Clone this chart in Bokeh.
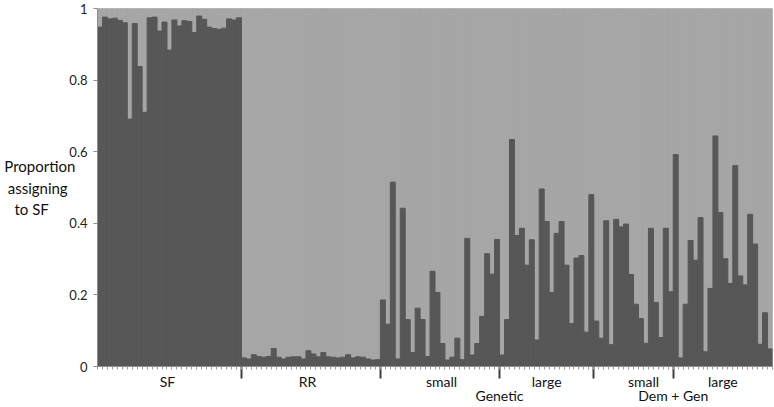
from bokeh.plotting import figure
from bokeh.models import Range1d, FixedTicker, LinearAxis, ColumnDataSource
from bokeh.embed import file_html
from bokeh.resources import INLINE

# ---- data (proportion assigning to SF, one value per individual) ----
sf = [0.948, 0.976, 0.971, 0.973, 0.967, 0.960, 0.691, 0.958, 0.838, 0.710,
      0.974, 0.976, 0.937, 0.962, 0.884, 0.968, 0.951, 0.966, 0.964, 0.933,
      0.979, 0.970, 0.948, 0.944, 0.942, 0.945, 0.971, 0.968, 0.974]
rr = [0.024, 0.021, 0.033, 0.028, 0.026, 0.028, 0.050, 0.026, 0.021, 0.026,
      0.027, 0.027, 0.021, 0.044, 0.035, 0.027, 0.039, 0.027, 0.026, 0.024,
      0.026, 0.033, 0.024, 0.027, 0.026, 0.021, 0.018, 0.019]
gen_small = [0.186, 0.118, 0.515, 0.021, 0.442, 0.131, 0.039, 0.163, 0.131, 0.028,
             0.266, 0.207, 0.064, 0.018, 0.026, 0.079, 0.019, 0.358, 0.032, 0.064,
             0.140, 0.315, 0.258, 0.355]
gen_large = [0.032, 0.131, 0.634, 0.366, 0.386, 0.283, 0.354, 0.074, 0.496, 0.405,
             0.207, 0.372, 0.405, 0.283, 0.120, 0.303, 0.310, 0.096, 0.480]
dg_small = [0.127, 0.079, 0.407, 0.061, 0.411, 0.390, 0.398, 0.257, 0.174, 0.134,
            0.065, 0.386, 0.179, 0.081, 0.386, 0.209]
dg_large = [0.592, 0.024, 0.174, 0.352, 0.297, 0.416, 0.041, 0.218, 0.644, 0.430,
            0.301, 0.232, 0.561, 0.253, 0.228, 0.425, 0.342, 0.062, 0.150, 0.049]

group_labels = ["SF", "RR", "small", "large", "small", "large"]
super_labels = ["Genetic", "Dem + Gen"]
y_ticks = [0, 0.2, 0.4, 0.6, 0.8, 1]
y_tick_labels = ["0", "0.2", "0.4", "0.6", "0.8", "1"]
y_title_lines = ["Proportion", "assigning", "to SF"]
# non-breaking spaces used to centre the right-aligned title lines
y_title_pad = [0, 2, 7]
# small horizontal nudges of the group labels (in bar widths), as in the original
label_nudge = [-0.4, -0.7, 0.3, 0.0, 2.0, 0.0]

groups = [sf, rr, gen_small, gen_large, dg_small, dg_large]

# ---- derived ----
vals = [v for g in groups for v in g]
n = len(vals)
xs = [i + 0.5 for i in range(n)]
bounds = []
starts = []
acc = 0
for g in groups:
    starts.append(acc)
    acc += len(g)
    bounds.append(acc)
major = bounds[:-1]
centers = [s + len(g) / 2 + d for s, g, d in zip(starts, groups, label_nudge)]
super_pos = [bounds[2], bounds[4]]
y_title = "\n".join(t + "\u00a0" * k for t, k in zip(y_title_lines, y_title_pad))

DARK = "#575757"
LIGHT = "#a6a6a6"
FONT = "Lato"
TXT = "#111111"

src = ColumnDataSource(dict(x=xs, q=vals, one=[1] * n))

p = figure(width=774, height=407, output_backend="svg", toolbar_location=None,
           x_range=Range1d(0, n), y_range=Range1d(0, 1),
           min_border_left=97, min_border_right=2, min_border_top=8,
           min_border_bottom=41,
           styles={"position": "absolute", "left": "0px", "top": "0px"})
p.background_fill_color = LIGHT
p.border_fill_color = "white"
p.outline_line_color = None
p.grid.visible = False

p.vbar(x="x", width=1, bottom="q", top="one", source=src,
       fill_color=LIGHT, line_color=LIGHT, line_width=1)
p.vbar(x="x", width=1, bottom=0, top="q", source=src,
       fill_color=DARK, line_color=DARK, line_width=1)

# x axis A: minor tick per bar, long major tick per group boundary, no labels
xa = p.xaxis[0]
xa.ticker = FixedTicker(ticks=major, minor_ticks=list(range(n + 1)))
xa.major_label_overrides = {b: "" for b in major}
xa.major_label_text_font_size = "1px"
xa.major_label_standoff = 0
xa.axis_line_color = "#8c8c8c"
xa.major_tick_line_color = "#404040"
xa.major_tick_line_width = 2
xa.major_tick_out = 12
xa.major_tick_in = 0
xa.minor_tick_line_color = "#9a9a9a"
xa.minor_tick_out = 3
xa.minor_tick_in = 0

# x axis B: group labels
xb = LinearAxis(ticker=FixedTicker(ticks=centers, minor_ticks=[]))
xb.major_label_overrides = {c: t for c, t in zip(centers, group_labels)}
xb.axis_line_color = None
xb.major_tick_line_color = None
xb.major_tick_out = 0
xb.major_tick_in = 0
xb.major_label_standoff = -6
xb.major_label_text_font = FONT
xb.major_label_text_font_size = "14px"
xb.major_label_text_color = TXT
p.add_layout(xb, "below")

# x axis C: super-group labels
xc = LinearAxis(ticker=FixedTicker(ticks=super_pos, minor_ticks=[]))
xc.major_label_overrides = {c: t for c, t in zip(super_pos, super_labels)}
xc.axis_line_color = None
xc.major_tick_line_color = None
xc.major_tick_out = 0
xc.major_tick_in = 0
xc.major_label_standoff = -6
xc.major_label_text_font = FONT
xc.major_label_text_font_size = "14px"
xc.major_label_text_color = TXT
p.add_layout(xc, "below")

ya = p.yaxis[0]
ya.ticker = FixedTicker(ticks=y_ticks)
ya.major_label_overrides = {t: s for t, s in zip(y_ticks, y_tick_labels)}
ya.major_label_text_font = FONT
ya.major_label_text_font_size = "13px"
ya.major_label_text_color = "#222222"
ya.major_label_standoff = 6
ya.axis_line_color = "#8c8c8c"
ya.major_tick_line_color = "#8c8c8c"
ya.major_tick_out = 4
ya.major_tick_in = 0
ya.minor_tick_line_color = None
ya.axis_label = y_title
ya.axis_label_orientation = "horizontal"
ya.axis_label_text_font = FONT
ya.axis_label_text_font_size = "15px"
ya.axis_label_text_font_style = "normal"
ya.axis_label_text_color = TXT
ya.axis_label_standoff = -9

open("out.html", "w").write(file_html(p, INLINE))
